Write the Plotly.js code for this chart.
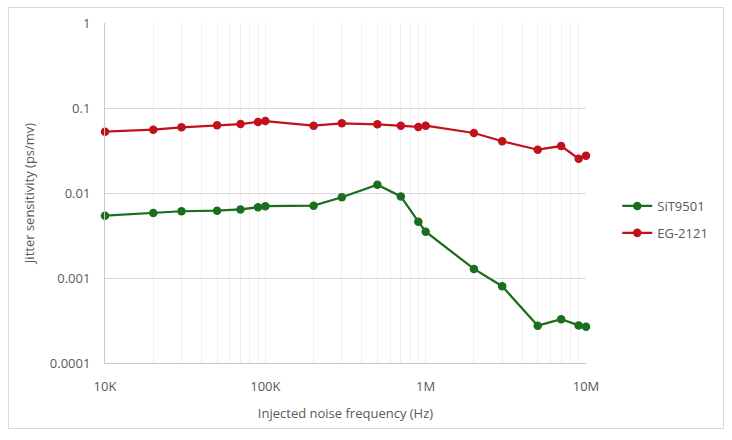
<!DOCTYPE html>
<html>
<head>
<meta charset="utf-8">
<script src="https://cdn.plot.ly/plotly-3.0.1.min.js"></script>
<style>
  html, body { margin: 0; padding: 0; background: #fff; }
  #wrap { position: relative; width: 732px; height: 440px; }
  #chart { width: 732px; height: 440px; }
  #frame { position: absolute; left: 8px; top: 7px; width: 714px; height: 420px; border: 1px solid #d9d9d9; pointer-events: none; }
</style>
</head>
<body>
<div id="wrap"><div id="chart"></div><div id="frame"></div></div>
<script>
const freq = [10000, 20000, 30000, 50000, 70000, 90000, 100000,
              200000, 300000, 500000, 700000, 900000, 1000000,
              2000000, 3000000, 5000000, 7000000, 9000000, 10000000];
const sit9501 = [0.0054, 0.0058, 0.0061, 0.0062, 0.0064, 0.0068, 0.0070,
                 0.0071, 0.0089, 0.0125, 0.0091, 0.0046, 0.0035,
                 0.00128, 0.00080, 0.000275, 0.000327, 0.000277, 0.000267];
const eg2121 = [0.0526, 0.0556, 0.0593, 0.0626, 0.0648, 0.0685, 0.0703,
                0.0619, 0.0660, 0.0643, 0.0620, 0.0598, 0.0620,
                0.0508, 0.0406, 0.0323, 0.0357, 0.0253, 0.0275];
const seriesNames = ['SiT9501', 'EG-2121'];
const xTickVals = [1e4, 1e5, 1e6, 1e7];
const xTickText = ['10K', '100K', '1M', '10M'];
const yTickVals = [0.0001, 0.001, 0.01, 0.1, 1];
const yTickText = ['0.0001', '0.001', '0.01', '0.1', '1'];

const font = { family: 'Open Sans, Noto Sans, sans-serif', size: 13, color: '#595959' };
const green = '#1b6e1e';
const red = '#c0121c';

const traces = [
  { x: freq, y: sit9501, name: seriesNames[0], legendgroup: 'a', type: 'scatter', mode: 'lines+markers',
    line: { color: green, width: 2.25 }, marker: { color: green, size: 8.5 }, cliponaxis: false },
  { x: freq, y: eg2121, name: seriesNames[1], legendgroup: 'b', type: 'scatter', mode: 'lines+markers',
    line: { color: red, width: 2.25 }, marker: { color: red, size: 8.5 }, cliponaxis: false }
];

const layout = {
  width: 732, height: 440,
  margin: { l: 105, r: 146, t: 23, b: 77 },
  paper_bgcolor: '#ffffff', plot_bgcolor: '#ffffff',
  font: font,
  showlegend: true,
  legend: { x: 1.065, y: 0.422, xanchor: 'left', yanchor: 'middle', traceorder: 'grouped', tracegroupgap: 7,
            font: font, bgcolor: 'rgba(0,0,0,0)', itemwidth: 30 },
  xaxis: {
    type: 'log', range: [4, 7],
    tickmode: 'array', tickvals: xTickVals, ticktext: xTickText,
    showgrid: true, gridcolor: '#efefef', gridwidth: 1,
    minor: { dtick: 'D1', showgrid: true, gridcolor: '#efefef', gridwidth: 1, ticks: '' },
    showline: true, linecolor: '#c8c8c8', linewidth: 1,
    ticks: '', ticklabelstandoff: 11, tickfont: font, zeroline: false,
    title: { text: 'Injected noise frequency (Hz)', font: font, standoff: 15 }
  },
  yaxis: {
    type: 'log', range: [-4, 0],
    tickmode: 'array', tickvals: yTickVals, ticktext: yTickText,
    showgrid: true, gridcolor: '#d9d9d9', gridwidth: 1,
    showline: true, linecolor: '#c8c8c8', linewidth: 1,
    ticks: '', ticklabelstandoff: 11, tickfont: font, zeroline: false,
    title: { text: 'Jitter sensitivity (ps/mv)', font: font, standoff: 12 }
  }
};

Plotly.newPlot('chart', traces, layout, { displayModeBar: false, staticPlot: true });
</script>
</body>
</html>
